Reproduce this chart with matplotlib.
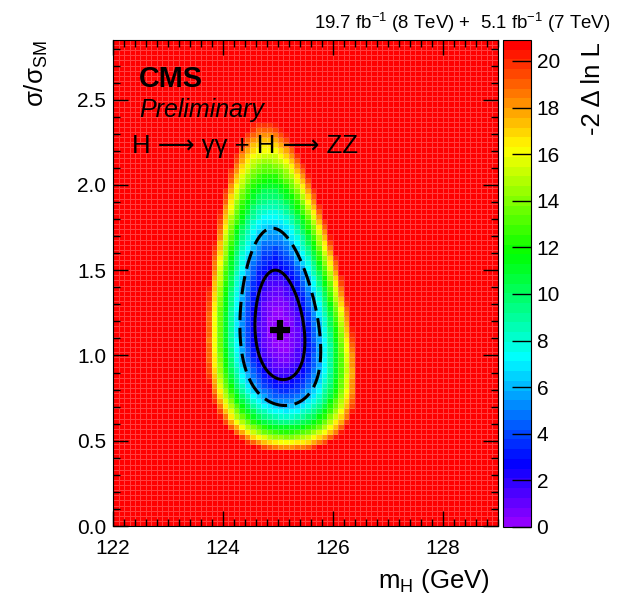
import colorsys
import numpy as np
import matplotlib.pyplot as plt
from matplotlib.colors import ListedColormap, Normalize
from matplotlib.ticker import MultipleLocator

plt.rcParams['font.family'] = ['Liberation Sans', 'DejaVu Sans']
plt.rcParams['mathtext.fontset'] = 'custom'
plt.rcParams['mathtext.rm'] = 'Liberation Sans'
plt.rcParams['mathtext.it'] = 'Liberation Sans:italic'

# best fit point
mh_best = 125.03
mu_best = 1.15

# signal strength part of the likelihood (counting model)
n_obs = 30.3
sig_frac = 0.86

# mass part: curvature at the best fit, its scaling with sigma/sigma_SM, valley tilt
mass_curv = 11.5
curv_power = 0.5
mass_tilt = 0.22

# binning of the scan and colour range
m_edges = np.arange(122.0, 129.001, 0.1)
mu_edges = np.linspace(0.0, 2.85, 96)
z_max = 20.9
cl_levels = [2.30, 5.99]
z_ticks = [0, 2, 4, 6, 8, 10, 12, 14, 16, 18, 20]


def nll2(m, mu):
    x = sig_frac * (mu - mu_best)
    q_mu = 2 * n_obs * (x - np.log1p(x))
    c = mass_curv * (mu / mu_best) ** curv_power
    dm = m - (mh_best - mass_tilt * (mu - mu_best))
    return q_mu + c * dm ** 2


# ROOT style rainbow palette, 50 colours from violet to red
root_cols = []
for i in range(50):
    hue = 280.0 - (i + 1) * 280.0 / 50
    root_cols.append(colorsys.hls_to_rgb(hue / 360.0, 0.5, 1.0))
cmap = ListedColormap(root_cols)

W, H = 620, 597
fig = plt.figure(figsize=(W / 100, H / 100), dpi=100)


def fx(px):
    return px / W


def fy(py):
    return 1 - py / H


ax = fig.add_axes([fx(113), fy(526), (498 - 113) / W, (526 - 40) / H])
cax = fig.add_axes([fx(503), fy(527), (531 - 503) / W, (527 - 40) / H])

mc = 0.5 * (m_edges[1:] + m_edges[:-1])
uc = 0.5 * (mu_edges[1:] + mu_edges[:-1])
MM, UU = np.meshgrid(mc, uc)
Z = np.minimum(nll2(MM, UU), z_max)
norm = Normalize(0, z_max)
mesh = ax.pcolormesh(m_edges, mu_edges, Z, cmap=cmap, norm=norm,
                     edgecolors=(1, 1, 1, 0.25), linewidth=0.5)

# smooth contours at 68% and 95% CL
mf = np.linspace(122, 129, 701)
uf = np.linspace(0.01, 2.85, 571)
MF, UF = np.meshgrid(mf, uf)
ZF = nll2(MF, UF)
ax.contour(MF, UF, ZF, levels=[cl_levels[0]], colors='k', linewidths=2.2)
ax.contour(MF, UF, ZF, levels=[cl_levels[1]], colors='k', linewidths=2.2,
           linestyles=[(0, (6, 2.5))])
ax.plot(mh_best, mu_best, marker='+', ms=15, mew=4.5, color='k')

ax.set_xlim(122, 129)
ax.set_ylim(0, 2.85)
ax.xaxis.set_major_locator(MultipleLocator(2))
ax.xaxis.set_minor_locator(MultipleLocator(0.2))
ax.yaxis.set_major_locator(MultipleLocator(0.5))
ax.yaxis.set_minor_locator(MultipleLocator(0.1))
ax.yaxis.set_major_formatter(lambda v, p: f'{v:.1f}')
ax.tick_params(which='both', direction='in', top=True, right=True, labelsize=15)
ax.tick_params(which='major', length=11, width=1)
ax.tick_params(which='minor', length=5, width=1)
ax.tick_params(axis='x', pad=9)
ax.tick_params(axis='y', pad=5)

cb = fig.colorbar(mesh, cax=cax, ticks=z_ticks)
cb.outline.set_linewidth(0.8)
cax.tick_params(direction='in', length=14, width=1, labelsize=15, pad=4)

fig.text(fx(36), fy(40), 'σ/σ$_{\\mathrm{SM}}$', rotation=90, ha='center', va='top',
         fontsize=18.5)
fig.text(fx(490), fy(588), 'm$_{\\mathrm{H}}$ (GeV)', ha='right', va='baseline',
         fontsize=18.5)
fig.text(fx(593), fy(42), '-2 Δ ln L', rotation=90, ha='center', va='top',
         fontsize=18.5)
fig.text(fx(610), fy(29),
         '19.7 fb$^{\\mathrm{-1}}$ (8 TeV) +  5.1 fb$^{\\mathrm{-1}}$ (7 TeV)',
         ha='right', va='baseline', fontsize=13.4)

fig.text(fx(139), fy(87), 'CMS', fontsize=20.8, fontweight='bold', va='baseline')
fig.text(fx(139), fy(117), 'Preliminary', fontsize=18, style='italic', va='baseline')
fig.text(fx(132), fy(153), 'H ⟶ γγ + H ⟶ ZZ', fontsize=18.5, va='baseline')

fig.savefig('out.png', dpi=100)
